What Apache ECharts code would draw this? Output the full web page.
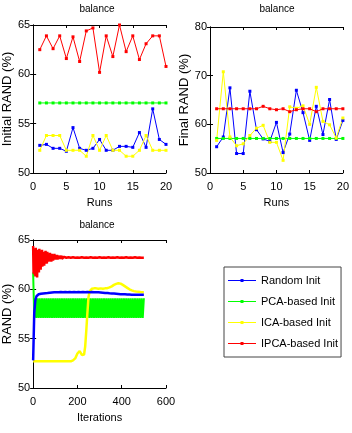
<!DOCTYPE html>
<html>
<head>
<meta charset="utf-8">
<script src="https://cdn.jsdelivr.net/npm/echarts@6/dist/echarts.min.js"></script>
<style>
  html, body { margin: 0; padding: 0; background: #fff; }
  #chart { width: 352px; height: 433px; }
</style>
</head>
<body>
<div id="chart"></div>
<script>
const seriesNames = ["Random Init", "PCA-based Init", "ICA-based Init", "IPCA-based Init"];
const colors = ["#0000ff", "#00ff00", "#ffff00", "#ff0000"];

// top left: initial RAND per run
const runs = [1, 2, 3, 4, 5, 6, 7, 8, 9, 10, 11, 12, 13, 14, 15, 16, 17, 18, 19, 20];
const initRandom = [52.8, 52.9, 52.5, 52.5, 52.2, 54.6, 52.5, 52.3, 52.5, 53.4, 52.3, 52.3, 52.7, 52.7, 52.6, 54.1, 52.6, 56.5, 53.4, 52.9];
const initPCA = [57.1, 57.1, 57.1, 57.1, 57.1, 57.1, 57.1, 57.1, 57.1, 57.1, 57.1, 57.1, 57.1, 57.1, 57.1, 57.1, 57.1, 57.1, 57.1, 57.1];
const initICA = [52.3, 53.8, 53.8, 53.8, 52.3, 52.3, 52.3, 51.7, 53.8, 52.3, 53.8, 52.3, 52.3, 51.7, 51.7, 52.3, 53.8, 52.3, 52.3, 52.3];
const initIPCA = [62.5, 63.9, 62.6, 63.9, 61.6, 63.8, 61.3, 64.4, 64.7, 60.2, 63.9, 61.8, 65.0, 62.3, 63.9, 61.5, 63.1, 63.9, 63.9, 60.8];

// top right: final RAND per run
const finalRandom = [55.4, 57.4, 67.5, 54.0, 54.0, 66.8, 58.9, 57.0, 56.5, 60.4, 54.2, 58.0, 67.0, 62.4, 56.7, 63.7, 57.9, 65.1, 56.9, 60.8];
const finalPCA = [57.1, 57.1, 57.1, 57.1, 57.1, 57.1, 57.1, 57.1, 57.1, 57.1, 57.1, 57.1, 57.1, 57.1, 57.1, 57.1, 57.1, 57.1, 57.1, 57.1];
const finalICA = [56.7, 70.8, 57.4, 55.6, 56.0, 57.7, 59.2, 59.8, 56.3, 56.3, 52.6, 63.6, 63.3, 63.8, 60.0, 67.6, 60.6, 59.9, 57.2, 61.3];
const finalIPCA = [63.2, 63.2, 63.2, 63.2, 63.2, 63.2, 63.2, 63.7, 63.2, 63.0, 63.2, 62.6, 63.0, 63.2, 63.2, 62.6, 63.2, 63.2, 63.2, 63.2];

// bottom: RAND over iterations, sampled every 5 iterations (0..500)
const iterStep = 5;
const iterRandom = [
  52.8, 57.6, 58.9, 59.3, 59.45, 59.5, 59.52, 59.55, 59.55, 59.58, 59.58, 59.6, 59.6, 59.62,
  59.62, 59.65, 59.65, 59.68, 59.68, 59.7,
  59.7, 59.7, 59.72, 59.7, 59.7, 59.72, 59.7, 59.7, 59.7, 59.72, 59.7, 59.7, 59.7, 59.72, 59.7,
  59.7, 59.7, 59.72, 59.7, 59.7, 59.7, 59.72, 59.7, 59.7, 59.7, 59.72, 59.7, 59.7, 59.7, 59.72,
  59.7, 59.7, 59.7, 59.72, 59.7, 59.7, 59.7, 59.7, 59.7, 59.7, 59.7,
  59.68, 59.67, 59.66, 59.65, 59.64, 59.63, 59.62, 59.61, 59.6, 59.6, 59.59, 59.58, 59.57, 59.56,
  59.55, 59.54, 59.53, 59.52, 59.51, 59.5, 59.5, 59.49, 59.49, 59.48, 59.48, 59.47, 59.47, 59.46,
  59.46, 59.46, 59.45, 59.45, 59.45, 59.45, 59.45, 59.45, 59.45, 59.45, 59.45, 59.45
];
const iterPCA = [
  61.7, 57.1, 59.1, 57.1, 59.1, 57.1, 59.1, 57.1, 59.1, 57.1, 59.1, 57.1, 59.1, 57.1, 59.1, 57.1, 59.1,
  57.1, 59.1, 57.1, 59.1, 57.1, 59.1, 57.1, 59.1, 57.1, 59.1, 57.1, 59.1, 57.1, 59.1, 57.1, 59.1,
  57.1, 59.1, 57.1, 59.1, 57.1, 59.1, 57.1, 59.1, 57.1, 59.1, 57.1, 59.1, 57.1, 59.1, 57.1, 59.1,
  57.1, 59.1, 57.1, 59.1, 57.1, 59.1, 57.1, 59.1, 57.1, 59.1, 57.1, 59.1, 57.1, 59.1, 57.1, 59.1,
  57.1, 59.1, 57.1, 59.1, 57.1, 59.1, 57.1, 59.1, 57.1, 59.1, 57.1, 59.1, 57.1, 59.1, 57.1, 59.1,
  57.1, 59.1, 57.1, 59.1, 57.1, 59.1, 57.1, 59.1, 57.1, 59.1, 57.1, 59.1, 57.1, 59.1, 57.1, 59.1,
  57.1, 59.1, 57.1, 59.1
];
const iterICA = [
  52.7, 52.7, 52.7, 52.7, 52.7, 52.7, 52.7, 52.7, 52.7, 52.7, 52.7, 52.7, 52.7, 52.7, 52.7, 52.7, 52.7,
  52.7, 52.7, 52.7, 52.7, 52.7, 52.7, 52.7, 52.7, 52.7, 52.7, 52.7, 52.7, 52.7, 52.7, 52.7, 52.7, 52.7,
  52.7, 52.75, 52.8, 52.9, 53.0, 53.2, 53.5, 53.7, 53.75, 53.55, 53.35, 53.3, 53.4, 54.2, 55.8, 57.6,
  59.2, 59.8, 60.0, 60.05, 60.05, 60.1, 60.05, 60.1, 60.1, 60.05, 60.1, 60.1, 60.1, 60.05, 60.1, 60.1,
  60.1, 60.12, 60.15, 60.2, 60.25, 60.3, 60.38, 60.45, 60.5, 60.55, 60.6, 60.62, 60.6, 60.58, 60.52,
  60.45, 60.38, 60.3, 60.22, 60.15, 60.08, 60.0, 59.95, 59.9, 59.85, 59.82, 59.8, 59.78, 59.75, 59.75,
  59.72, 59.72, 59.7, 59.7, 59.7
];
// IPCA: every 2 iterations for 0..150, then every 10 for 160..500
const ipcaEarlyStep = 2;
const iterIPCAEarly = [
  64.4, 61.6, 64.1, 61.5, 63.9, 61.3, 64.2, 61.8, 63.8, 61.2, 64.0, 62.0, 63.9, 61.7, 64.1, 62.3,
  63.7, 62.0, 63.9, 62.4, 64.0, 62.3, 63.6, 62.5, 63.8, 62.4, 63.7, 62.6, 63.9, 62.7, 63.6, 62.6,
  63.8, 62.8, 63.5, 62.8, 63.6, 62.9, 63.7, 62.9, 63.5, 62.8, 63.6, 63.0, 63.5, 62.9, 63.4, 63.0,
  63.6, 63.0, 63.4, 63.0, 63.4, 63.1, 63.5, 63.0, 63.4, 63.1, 63.3, 63.1, 63.4, 63.1, 63.3, 63.1,
  63.4, 63.1, 63.3, 63.2, 63.3, 63.1, 63.3, 63.2, 63.3, 63.2, 63.3, 63.2
];
const ipcaLateStart = 160;
const ipcaLateStep = 10;
const iterIPCALate = [
  63.25, 63.2, 63.25, 63.2, 63.22, 63.2, 63.25, 63.2, 63.22, 63.2, 63.25, 63.2, 63.22, 63.2, 63.25,
  63.2, 63.22, 63.2, 63.25, 63.2, 63.22, 63.2, 63.25, 63.2, 63.22, 63.2, 63.25, 63.2, 63.22, 63.2,
  63.25, 63.2, 63.22, 63.2, 63.2
];

const FONT = '"Liberation Sans", Arial, sans-serif';

const grids = [
  { left: 29, top: 25, width: 137, height: 148 },
  { left: 210, top: 27, width: 137, height: 146 },
  { left: 29, top: 240, width: 137, height: 148 }
];

const axisSpec = [
  { xmin: 0, xmax: 20, xint: 5, ymin: 50, ymax: 65, yint: 5, xname: "Runs", yname: "Initial RAND (%)" },
  { xmin: 0, xmax: 20, xint: 5, ymin: 50, ymax: 80, yint: 10, xname: "Runs", yname: "Final RAND (%)" },
  { xmin: 0, xmax: 600, xint: 200, ymin: 50, ymax: 65, yint: 5, xname: "Iterations", yname: "RAND (%)" }
];

const xAxes = [];
const yAxes = [];
axisSpec.forEach(function (a, i) {
  const common = {
    gridIndex: i, type: "value", splitLine: { show: false },
    axisLine: { show: true, lineStyle: { color: "#000", width: 1 } },
    axisTick: { show: true, inside: true, length: 3, lineStyle: { color: "#000" } }
  };
  xAxes.push(Object.assign({}, common, {
    position: "bottom", min: a.xmin, max: a.xmax, interval: a.xint,
    name: a.xname, nameLocation: "middle", nameGap: 24,
    nameTextStyle: { fontFamily: FONT, fontSize: 11, color: "#000" },
    axisLabel: { margin: 8, fontFamily: FONT, fontSize: 11, color: "#000" }
  }));
  xAxes.push(Object.assign({}, common, {
    position: "top", min: a.xmin, max: a.xmax, interval: a.xint, axisLabel: { show: false }
  }));
  yAxes.push(Object.assign({}, common, {
    position: "left", min: a.ymin, max: a.ymax, interval: a.yint,
    name: a.yname, nameLocation: "middle", nameGap: 17,
    nameTextStyle: { fontFamily: FONT, fontSize: 13, color: "#000" },
    axisLabel: { margin: 3, fontFamily: FONT, fontSize: 11, color: "#000" }
  }));
  yAxes.push(Object.assign({}, common, {
    position: "right", min: a.ymin, max: a.ymax, interval: a.yint, axisLabel: { show: false }
  }));
});

function runSeries(name, values, color, gi) {
  return {
    name: name, type: "line", xAxisIndex: gi * 2, yAxisIndex: gi * 2,
    data: runs.map(function (r, k) { return [r, values[k]]; }),
    symbol: "rect", symbolSize: 3, showSymbol: true,
    lineStyle: { color: color, width: 1 }, itemStyle: { color: color },
    animation: false
  };
}

function iterSeries(name, pairs, color, width) {
  return {
    name: name, type: "line", xAxisIndex: 4, yAxisIndex: 4,
    data: pairs, showSymbol: false, symbol: "rect", symbolSize: 3,
    lineStyle: { color: color, width: width }, itemStyle: { color: color },
    animation: false
  };
}

const stepPairs = function (values, start, step) {
  return values.map(function (v, k) { return [start + k * step, v]; });
};

const ipcaPairs = stepPairs(iterIPCAEarly, 0, ipcaEarlyStep)
  .concat(stepPairs(iterIPCALate, ipcaLateStart, ipcaLateStep));

const series = [
  runSeries(seriesNames[0], initRandom, colors[0], 0),
  runSeries(seriesNames[1], initPCA, colors[1], 0),
  runSeries(seriesNames[2], initICA, colors[2], 0),
  runSeries(seriesNames[3], initIPCA, colors[3], 0),
  runSeries(seriesNames[0], finalRandom, colors[0], 1),
  runSeries(seriesNames[1], finalPCA, colors[1], 1),
  runSeries(seriesNames[2], finalICA, colors[2], 1),
  runSeries(seriesNames[3], finalIPCA, colors[3], 1),
  iterSeries(seriesNames[1], stepPairs(iterPCA, 0, iterStep), colors[1], 2),
  iterSeries(seriesNames[3], ipcaPairs, colors[3], 2.5),
  iterSeries(seriesNames[2], stepPairs(iterICA, 0, iterStep), colors[2], 2.5),
  iterSeries(seriesNames[0], stepPairs(iterRandom, 0, iterStep), colors[0], 2.5)
];

const titleStyle = { fontFamily: FONT, fontSize: 10, fontWeight: "normal", color: "#000" };

// thin line with a small square marker in the middle
const legendIcon = "path://M0,3.5L28,3.5L28,4.5L0,4.5Z M12.5,2.5L15.5,2.5L15.5,5.5L12.5,5.5Z";

let myChart = echarts.init(document.getElementById("chart"));
option = {
  backgroundColor: "#fff",
  animation: false,
  title: [
    { text: "balance", left: 97, top: 4, textAlign: "center", padding: 0, textStyle: titleStyle },
    { text: "balance", left: 277, top: 4, textAlign: "center", padding: 0, textStyle: titleStyle },
    { text: "balance", left: 97, top: 220, textAlign: "center", padding: 0, textStyle: titleStyle }
  ],
  legend: {
    data: seriesNames.map(function (n, k) {
      return {
        name: n,
        icon: legendIcon,
        itemStyle: { color: colors[k], borderColor: colors[k], borderWidth: 0 },
        lineStyle: { color: colors[k], width: 0 }
      };
    }),
    orient: "vertical",
    left: 224,
    top: 267,
    itemWidth: 28,
    itemHeight: 3,
    itemGap: 10,
    padding: [8, 3, 8, 4],
    borderColor: "#444",
    borderWidth: 1,
    backgroundColor: "#fff",
    itemStyle: { borderWidth: 0 },
    textStyle: { fontFamily: FONT, fontSize: 11, color: "#000" }
  },
  grid: grids,
  xAxis: xAxes,
  yAxis: yAxes,
  series: series
};
myChart.setOption(option);
window.addEventListener("resize", function () {
  myChart.resize();
});
</script>
</body>
</html>
